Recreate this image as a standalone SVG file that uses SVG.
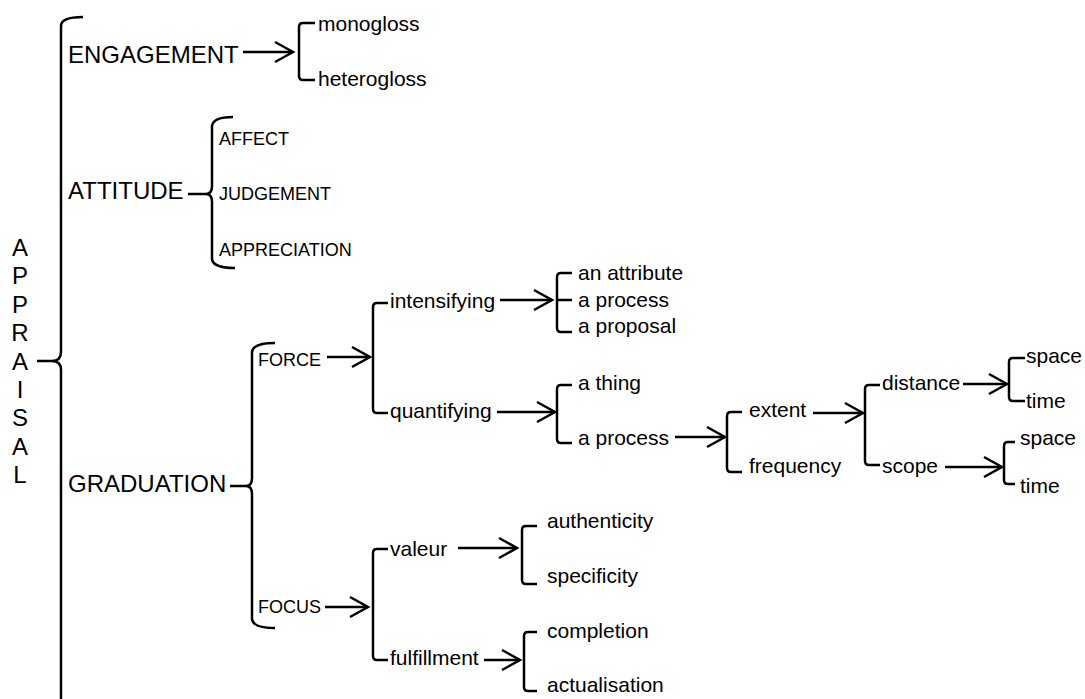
<svg xmlns="http://www.w3.org/2000/svg" width="1085" height="699" viewBox="0 0 1085 699">
<style>
  text { font-family: "Liberation Sans", Arial, sans-serif; fill: #000; }
  .big { font-size: 24px; }
  .cap { font-size: 18px; }
  .low { font-size: 21px; }
  .ln { fill: none; stroke: #000; stroke-width: 2.5; stroke-linecap: butt; stroke-linejoin: round; }
  .arr { fill: none; stroke: #000; stroke-width: 2.5; marker-end: url(#chev); }
</style>
<defs>
  <marker id="chev" markerUnits="userSpaceOnUse" markerWidth="24" markerHeight="24" viewBox="-20 -12 22 24" refX="0" refY="0" orient="auto" overflow="visible">
    <path d="M-18,-10 L0,0 L-18,10" fill="none" stroke="#000" stroke-width="2.5" stroke-linejoin="miter"/>
  </marker>
</defs>
<rect width="1085" height="699" fill="#fff"/>

<g id="appraisal">
  <text class="big" text-anchor="middle" x="20" y="256">A</text>
  <text class="big" text-anchor="middle" x="20" y="284">P</text>
  <text class="big" text-anchor="middle" x="20" y="313">P</text>
  <text class="big" text-anchor="middle" x="20" y="341">R</text>
  <text class="big" text-anchor="middle" x="20" y="370">A</text>
  <text class="big" text-anchor="middle" x="20" y="398">I</text>
  <text class="big" text-anchor="middle" x="20" y="426">S</text>
  <text class="big" text-anchor="middle" x="20" y="455">A</text>
  <text class="big" text-anchor="middle" x="20" y="483">L</text>
</g>

<g id="engagement"><text class="big" x="68" y="63">ENGAGEMENT</text></g>
<g id="monogloss"><text class="low" x="318" y="31">monogloss</text></g>
<g id="heterogloss"><text class="low" x="318" y="86">heterogloss</text></g>

<g id="attitude"><text class="big" x="68" y="199">ATTITUDE</text></g>
<g id="affect"><text class="cap" x="219" y="145">AFFECT</text></g>
<g id="judgement"><text class="cap" x="219" y="200">JUDGEMENT</text></g>
<g id="appreciation"><text class="cap" x="219" y="256">APPRECIATION</text></g>

<g id="graduation"><text class="big" x="68" y="492">GRADUATION</text></g>
<g id="force"><text class="cap" x="258" y="366">FORCE</text></g>
<g id="focus"><text class="cap" x="258" y="613">FOCUS</text></g>

<g id="intensifying"><text class="low" x="390" y="308">intensifying</text></g>
<g id="quantifying"><text class="low" x="390" y="418">quantifying</text></g>
<g id="an-attribute"><text class="low" x="578" y="280">an attribute</text></g>
<g id="a-process-1"><text class="low" x="578" y="307">a process</text></g>
<g id="a-proposal"><text class="low" x="578" y="333">a proposal</text></g>
<g id="a-thing"><text class="low" x="578" y="390">a thing</text></g>
<g id="a-process-2"><text class="low" x="578" y="445">a process</text></g>
<g id="extent"><text class="low" x="749" y="417">extent</text></g>
<g id="frequency"><text class="low" x="749" y="473">frequency</text></g>
<g id="distance"><text class="low" x="882" y="390">distance</text></g>
<g id="scope"><text class="low" x="882" y="473">scope</text></g>
<g id="space-1"><text class="low" x="1026" y="363">space</text></g>
<g id="time-1"><text class="low" x="1026" y="408">time</text></g>
<g id="space-2"><text class="low" x="1020" y="445">space</text></g>
<g id="time-2"><text class="low" x="1020" y="493">time</text></g>

<g id="valeur"><text class="low" x="390" y="556">valeur</text></g>
<g id="fulfillment"><text class="low" x="390" y="665">fulfillment</text></g>
<g id="authenticity"><text class="low" x="547" y="528">authenticity</text></g>
<g id="specificity"><text class="low" x="547" y="583">specificity</text></g>
<g id="completion"><text class="low" x="547" y="638">completion</text></g>
<g id="actualisation"><text class="low" x="547" y="692">actualisation</text></g>

<g id="connectors">
  <!-- main brace -->
  <path class="ln" d="M83,17 Q61,17 61,26 V352 Q61,361 52,361 H37 M52,361 Q61,361 61,370 V699"/>
  <!-- engagement -->
  <line class="arr" x1="243" y1="52" x2="293" y2="52"/>
  <path class="ln" d="M315,23 H303 Q299,23 299,27 V76 Q299,80 303,80 H315"/>
  <!-- attitude brace -->
  <path class="ln" d="M233,117 Q213,117 212,126 V186 Q212,194 206,194 H188 M206,194 Q212,194 212,202 V259 Q213,268 235,268"/>
  <!-- graduation brace -->
  <path class="ln" d="M275,343 Q253,343 252,352 V478 Q252,486 246,486 H230 M246,486 Q252,486 252,494 V619 Q253,628 275,628"/>
  <!-- force -->
  <line class="arr" x1="327" y1="357" x2="370" y2="357"/>
  <path class="ln" d="M388,303 H377 Q373,303 373,307 V409 Q373,413 377,413 H388"/>
  <!-- intensifying -->
  <line class="arr" x1="500" y1="300" x2="552" y2="300"/>
  <path class="ln" d="M572,273 H561 Q557,273 557,277 V328 Q557,332 561,332 H572 M557,300 H572"/>
  <!-- quantifying -->
  <line class="arr" x1="497" y1="412" x2="555" y2="412"/>
  <path class="ln" d="M572,385 H561 Q557,385 557,389 V439 Q557,443 561,443 H572"/>
  <!-- a process -->
  <line class="arr" x1="675" y1="437" x2="725" y2="437"/>
  <path class="ln" d="M742,412 H731 Q727,412 727,416 V468 Q727,472 731,472 H742"/>
  <!-- extent -->
  <line class="arr" x1="813" y1="413" x2="863" y2="413"/>
  <path class="ln" d="M880,385 H869 Q865,385 865,389 V461 Q865,465 869,465 H880"/>
  <!-- distance -->
  <line class="arr" x1="963" y1="384" x2="1007" y2="384"/>
  <path class="ln" d="M1025,358 H1013 Q1009,358 1009,362 V397 Q1009,401 1013,401 H1025"/>
  <!-- scope -->
  <line class="arr" x1="945" y1="467" x2="1002" y2="467"/>
  <path class="ln" d="M1015,442 H1008 Q1004,442 1004,446 V480 Q1004,484 1008,484 H1015"/>
  <!-- focus -->
  <line class="arr" x1="325" y1="607" x2="368" y2="607"/>
  <path class="ln" d="M388,549 H377 Q373,549 373,553 V656 Q373,660 377,660 H388"/>
  <!-- valeur -->
  <line class="arr" x1="458" y1="548" x2="517" y2="548"/>
  <path class="ln" d="M537,526 H526 Q522,526 522,530 V580 Q522,584 526,584 H537"/>
  <!-- fulfillment -->
  <line class="arr" x1="484" y1="660" x2="520" y2="660"/>
  <path class="ln" d="M537,632 H528 Q524,632 524,636 V687 Q524,691 528,691 H537"/>
</g>
</svg>
